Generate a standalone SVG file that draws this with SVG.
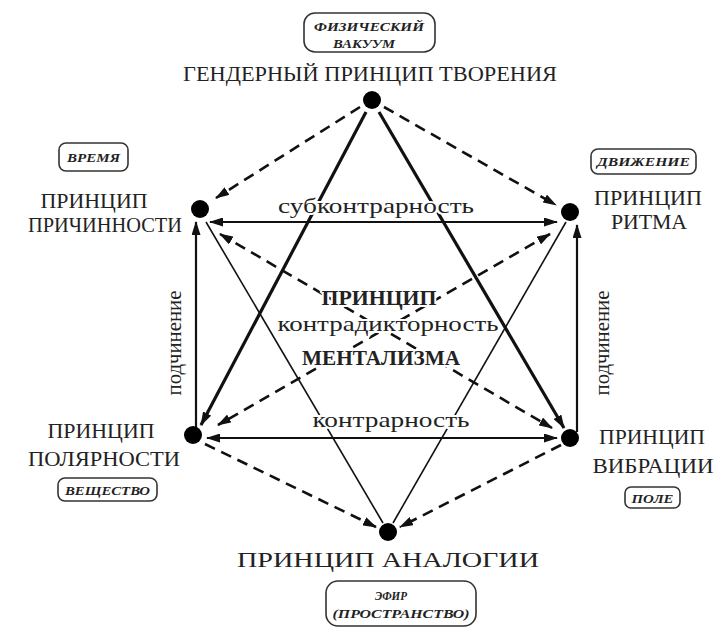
<svg xmlns="http://www.w3.org/2000/svg" width="716" height="630" viewBox="0 0 716 630">
<defs>
<style>
.lbl{font-family:"Liberation Serif","DejaVu Serif","Times New Roman",serif;font-size:21px;fill:#222;text-anchor:middle}
.mid{font-family:"Liberation Serif","DejaVu Serif","Times New Roman",serif;font-size:22px;fill:#222;text-anchor:middle;stroke:#fff;stroke-width:4;paint-order:stroke;stroke-linejoin:round}
.ctr{font-weight:bold}
.box{fill:#fff;stroke:#333;stroke-width:1.6}
.bt{font-family:"Liberation Serif","DejaVu Serif","Times New Roman",serif;font-size:13.5px;font-style:italic;font-weight:bold;fill:#222;text-anchor:middle}
.thick{stroke:#111;stroke-width:3.2;fill:none}
.thin{stroke:#111;stroke-width:1.6;fill:none}
.dash{stroke:#111;stroke-width:2.6;fill:none;stroke-dasharray:11 7}
.hv{stroke:#111;stroke-width:2.2;fill:none}
.node{fill:#000}
</style>
<marker id="ah" viewBox="0 0 14 9" refX="13" refY="4.5" markerWidth="14" markerHeight="9" markerUnits="userSpaceOnUse" orient="auto-start-reverse">
<path d="M0,0 L14,4.5 L0,9 z" fill="#111" stroke="none"/>
</marker>
</defs>
<rect width="716" height="630" fill="#fff"/>
<g id="connectors">
<line class="dash" x1="360" y1="107" x2="216" y2="198" marker-end="url(#ah)"/>
<line class="dash" x1="384" y1="107" x2="556" y2="205" marker-end="url(#ah)"/>
<line class="thick" x1="366" y1="112" x2="201" y2="425" marker-end="url(#ah)"/>
<line class="thick" x1="379" y1="112" x2="564" y2="428" marker-end="url(#ah)"/>
<line class="hv" x1="210" y1="222" x2="557" y2="222" marker-start="url(#ah)" marker-end="url(#ah)"/>
<line class="hv" x1="207" y1="438" x2="557" y2="438" marker-start="url(#ah)" marker-end="url(#ah)"/>
<line class="hv" x1="196" y1="430" x2="196" y2="222" marker-end="url(#ah)"/>
<line class="hv" x1="577" y1="432" x2="577" y2="225" marker-end="url(#ah)"/>
<line class="thin" x1="206" y1="222" x2="383" y2="523"/>
<line class="thin" x1="566" y1="222" x2="393" y2="523"/>
<line class="dash" x1="220" y1="234" x2="552" y2="428" marker-start="url(#ah)" marker-end="url(#ah)"/>
<line class="dash" x1="550" y1="234" x2="218" y2="425" marker-start="url(#ah)" marker-end="url(#ah)"/>
<line class="dash" x1="205" y1="444" x2="376" y2="527" marker-end="url(#ah)"/>
<line class="dash" x1="561" y1="445" x2="400" y2="527" marker-end="url(#ah)"/>
<text class="mid" x="376" y="213" textLength="196" lengthAdjust="spacingAndGlyphs">субконтрарность</text>
<text class="mid" x="391" y="427" textLength="157" lengthAdjust="spacingAndGlyphs">контрарность</text>
<text class="mid" x="181" y="343" transform="rotate(-90 181 343)" textLength="105" lengthAdjust="spacingAndGlyphs">подчинение</text>
<text class="mid" x="609" y="343" transform="rotate(-90 609 343)" textLength="105" lengthAdjust="spacingAndGlyphs">подчинение</text>
</g>
<g id="center">
<text class="mid ctr" x="379" y="305" textLength="115" lengthAdjust="spacingAndGlyphs">ПРИНЦИП</text>
<text class="mid" x="388" y="331" textLength="221" lengthAdjust="spacingAndGlyphs">контрадикторность</text>
<text class="mid ctr" x="381" y="365" textLength="158" lengthAdjust="spacingAndGlyphs">МЕНТАЛИЗМА</text>
</g>
<g id="n-gender">
<circle class="node" cx="372" cy="100" r="9"/>
<text class="lbl" x="370" y="81" textLength="374" lengthAdjust="spacingAndGlyphs">ГЕНДЕРНЫЙ ПРИНЦИП ТВОРЕНИЯ</text>
<rect class="box" x="304" y="13" width="131" height="39" rx="11"/>
<text class="bt" x="369" y="31" textLength="110" lengthAdjust="spacingAndGlyphs">ФИЗИЧЕСКИЙ</text>
<text class="bt" x="364" y="48" textLength="62" lengthAdjust="spacingAndGlyphs">ВАКУУМ</text>
</g>
<g id="n-causality">
<circle class="node" cx="200" cy="209" r="9"/>
<text class="lbl" x="94" y="208" textLength="107" lengthAdjust="spacingAndGlyphs">ПРИНЦИП</text>
<text class="lbl" x="105" y="232" textLength="154" lengthAdjust="spacingAndGlyphs">ПРИЧИННОСТИ</text>
<rect class="box" x="59" y="143" width="69" height="28" rx="7"/>
<text class="bt" x="93.5" y="162" textLength="53" lengthAdjust="spacingAndGlyphs">ВРЕМЯ</text>
</g>
<g id="n-rhythm">
<circle class="node" cx="570" cy="212" r="9"/>
<text class="lbl" x="648" y="205" textLength="108" lengthAdjust="spacingAndGlyphs">ПРИНЦИП</text>
<text class="lbl" x="649" y="229" textLength="76" lengthAdjust="spacingAndGlyphs">РИТМА</text>
<rect class="box" x="591" y="149" width="105" height="25" rx="7"/>
<text class="bt" x="643.5" y="166" textLength="93" lengthAdjust="spacingAndGlyphs">ДВИЖЕНИЕ</text>
</g>
<g id="n-polarity">
<circle class="node" cx="193" cy="435" r="9"/>
<text class="lbl" x="101" y="438" textLength="107" lengthAdjust="spacingAndGlyphs">ПРИНЦИП</text>
<text class="lbl" x="104" y="466" textLength="152" lengthAdjust="spacingAndGlyphs">ПОЛЯРНОСТИ</text>
<rect class="box" x="58" y="478" width="99" height="23" rx="7"/>
<text class="bt" x="107.5" y="494.5" textLength="85" lengthAdjust="spacingAndGlyphs">ВЕЩЕСТВО</text>
</g>
<g id="n-vibration">
<circle class="node" cx="570" cy="438" r="9"/>
<text class="lbl" x="652" y="444" textLength="106" lengthAdjust="spacingAndGlyphs">ПРИНЦИП</text>
<text class="lbl" x="653" y="473" textLength="121" lengthAdjust="spacingAndGlyphs">ВИБРАЦИИ</text>
<rect class="box" x="625" y="487" width="55" height="21" rx="6"/>
<text class="bt" x="652.5" y="502.5" textLength="42" lengthAdjust="spacingAndGlyphs">ПОЛЕ</text>
</g>
<g id="n-analogy">
<circle class="node" cx="388" cy="532" r="9"/>
<text class="lbl" x="388" y="567" textLength="302" lengthAdjust="spacingAndGlyphs">ПРИНЦИП АНАЛОГИИ</text>
<rect class="box" x="326" y="581" width="150" height="45" rx="12"/>
<text class="bt" x="391" y="600" textLength="32" lengthAdjust="spacingAndGlyphs">ЭФИР</text>
<text class="bt" x="401" y="618" textLength="137" lengthAdjust="spacingAndGlyphs">(ПРОСТРАНСТВО)</text>
</g>
</svg>
